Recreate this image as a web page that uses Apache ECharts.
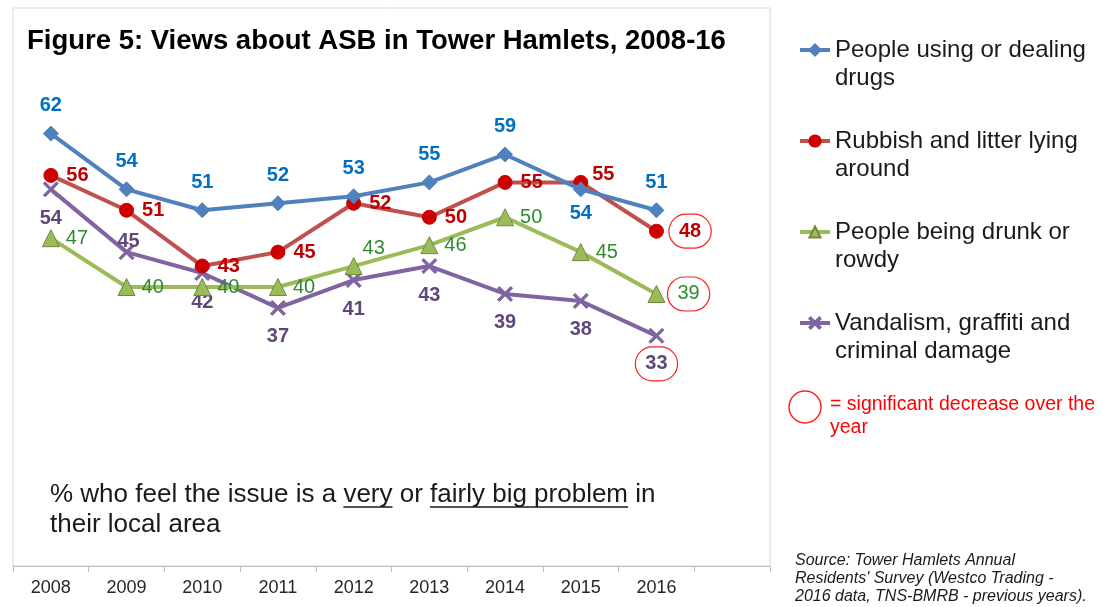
<!DOCTYPE html>
<html>
<head>
<meta charset="utf-8">
<script src="https://cdn.jsdelivr.net/npm/echarts@6/dist/echarts.min.js"></script>
<style>
  html, body { margin: 0; padding: 0; background: #fff; }
  #chart { width: 1103px; height: 607px; }
</style>
</head>
<body>
<div id="chart"></div>
<script>
// data
const years = ['2008', '2009', '2010', '2011', '2012', '2013', '2014', '2015', '2016', ''];
const seriesNames = [
  'People using or dealing\ndrugs',
  'Rubbish and litter lying\naround',
  'People being drunk or\nrowdy',
  'Vandalism, graffiti and\ncriminal damage'
];
const drugs = [62, 54, 51, 52, 53, 55, 59, 54, 51];
const rubbish = [56, 51, 43, 45, 52, 50, 55, 55, 48];
const drunk = [47, 40, 40, 40, 43, 46, 50, 45, 39];
const vandalism = [54, 45, 42, 37, 41, 43, 39, 38, 33];
// 2016 points with a significant fall (circled)
const significant = [false, true, true, true];

const FONT = '"Liberation Sans", Arial, sans-serif';
const chart = echarts.init(document.getElementById('chart'));

// per point label tweaks, index -> label options
const labelTweaks = [
  { 7: { position: 'bottom', distance: 6 } },
  { 7: { position: 'right', offset: [-4, -8] } },
  { 4: { position: 'top', offset: [20, 7] } },
  { 1: { position: 'top', offset: [2, 18] } }
];
const circleDistance = [0, 5, 2, 3];

const withLabels = (values, s) => values.map((v, i) => {
  let label = labelTweaks[s][i] || null;
  if (significant[s] && i === values.length - 1) {
    label = Object.assign({}, label, {
      borderColor: '#ff2020',
      borderWidth: 1.2,
      borderRadius: 20,
      padding: [7, 10],
      distance: circleDistance[s]
    });
  }
  return label ? { value: v, label: label } : v;
});

const xPath = 'path://M0,1.2L1.2,0L5,3.8L8.8,0L10,1.2L6.2,5L10,8.8L8.8,10L5,6.2L1.2,10L0,8.8L3.8,5Z';

const styles = [
  { line: '#4f81bd', symbol: 'diamond', size: 15, fill: '#4f81bd', border: '#4f81bd', label: '#0070c0', pos: 'top', dist: 10, bold: 'bold' },
  { line: '#c0504d', symbol: 'circle', size: 14, fill: '#cc0000', border: '#cc0000', label: '#c00000', pos: 'right', dist: 8, bold: 'bold' },
  { line: '#9bbb59', symbol: 'triangle', size: 17, fill: '#9bbb59', border: '#71893f', label: '#2e8b2e', pos: 'right', dist: 6, bold: 'normal' },
  { line: '#8064a2', symbol: xPath, size: 15, fill: '#8064a2', border: '#8064a2', label: '#5f497a', pos: 'bottom', dist: 11, bold: 'bold' }
];

const series = [drugs, rubbish, drunk, vandalism].map((vals, s) => ({
  name: seriesNames[s],
  type: 'line',
  data: withLabels(vals, s),
  symbol: styles[s].symbol,
  symbolSize: styles[s].size,
  lineStyle: { color: styles[s].line, width: 4 },
  itemStyle: { color: styles[s].fill, borderColor: styles[s].border, borderWidth: 1 },
  label: {
    show: true,
    position: styles[s].pos,
    distance: styles[s].dist,
    color: styles[s].label,
    fontSize: 20,
    fontWeight: styles[s].bold,
    fontFamily: FONT
  },
  z: 10 - s
}));

// underline positions for the note text
const noteFont = '26px "Liberation Sans"';
const ctx = document.createElement('canvas').getContext('2d');
ctx.font = noteFont;
const tw = (t) => ctx.measureText(t).width;
const noteX = 50, noteLineY = 507;
const line1 = '% who feel the issue is a very or fairly big problem in';
const u1a = noteX + tw('% who feel the issue is a ');
const u1b = u1a + tw('very');
const u2a = noteX + tw('% who feel the issue is a very or ');
const u2b = u2a + tw('fairly big problem');

const option = {
  animation: false,
  title: {
    text: 'Figure 5: Views about ASB in Tower Hamlets, 2008-16',
    left: 27,
    top: 27,
    padding: 0,
    textStyle: { fontSize: 27.5, fontWeight: 'bold', color: '#000', fontFamily: FONT }
  },
  grid: {
    left: 13, right: 333, top: 8, bottom: 41,
    show: true, borderColor: '#d9d9d9', borderWidth: 1, backgroundColor: '#fff'
  },
  legend: {
    orient: 'vertical',
    left: 798,
    top: 8,
    padding: 0,
    itemWidth: 30,
    itemHeight: 14,
    itemGap: 7,
    lineStyle: { width: 4 },
    // empty first line keeps the marker level with the first text line
    formatter: (name) => '\n' + name,
    textStyle: { fontSize: 24, lineHeight: 28, color: '#1a1a1a', fontFamily: FONT }
  },
  xAxis: {
    type: 'category',
    data: years,
    boundaryGap: true,
    axisLine: { lineStyle: { color: '#bfbfbf', width: 1 } },
    axisTick: { show: true, length: 6, lineStyle: { color: '#bfbfbf' } },
    axisLabel: { color: '#262626', fontSize: 18, margin: 13, fontFamily: FONT }
  },
  yAxis: {
    type: 'value',
    min: 0,
    max: 80,
    show: false
  },
  series: series,
  graphic: [
    {
      type: 'text', left: noteX, top: 480,
      style: { text: line1 + '\ntheir local area', font: noteFont, lineHeight: 30, fill: '#1a1a1a' }
    },
    { type: 'line', shape: { x1: u1a, y1: noteLineY, x2: u1b, y2: noteLineY }, style: { stroke: '#1a1a1a', lineWidth: 1.5 } },
    { type: 'line', shape: { x1: u2a, y1: noteLineY, x2: u2b, y2: noteLineY }, style: { stroke: '#1a1a1a', lineWidth: 1.5 } },
    {
      type: 'circle', shape: { cx: 805, cy: 407, r: 16 },
      style: { fill: 'none', stroke: '#ff2020', lineWidth: 1.5 }
    },
    {
      type: 'text', left: 830, top: 393,
      style: { text: '= significant decrease over the\nyear', font: '19.5px "Liberation Sans"', lineHeight: 23, fill: '#ff0000' }
    },
    {
      type: 'text', left: 795, top: 552,
      style: {
        text: 'Source: Tower Hamlets Annual\nResidents\' Survey (Westco Trading -\n2016 data, TNS-BMRB - previous years).',
        font: 'italic 16px "Liberation Sans"', lineHeight: 18, fill: '#1a1a1a'
      }
    }
  ]
};

chart.setOption(option);
</script>
</body>
</html>
